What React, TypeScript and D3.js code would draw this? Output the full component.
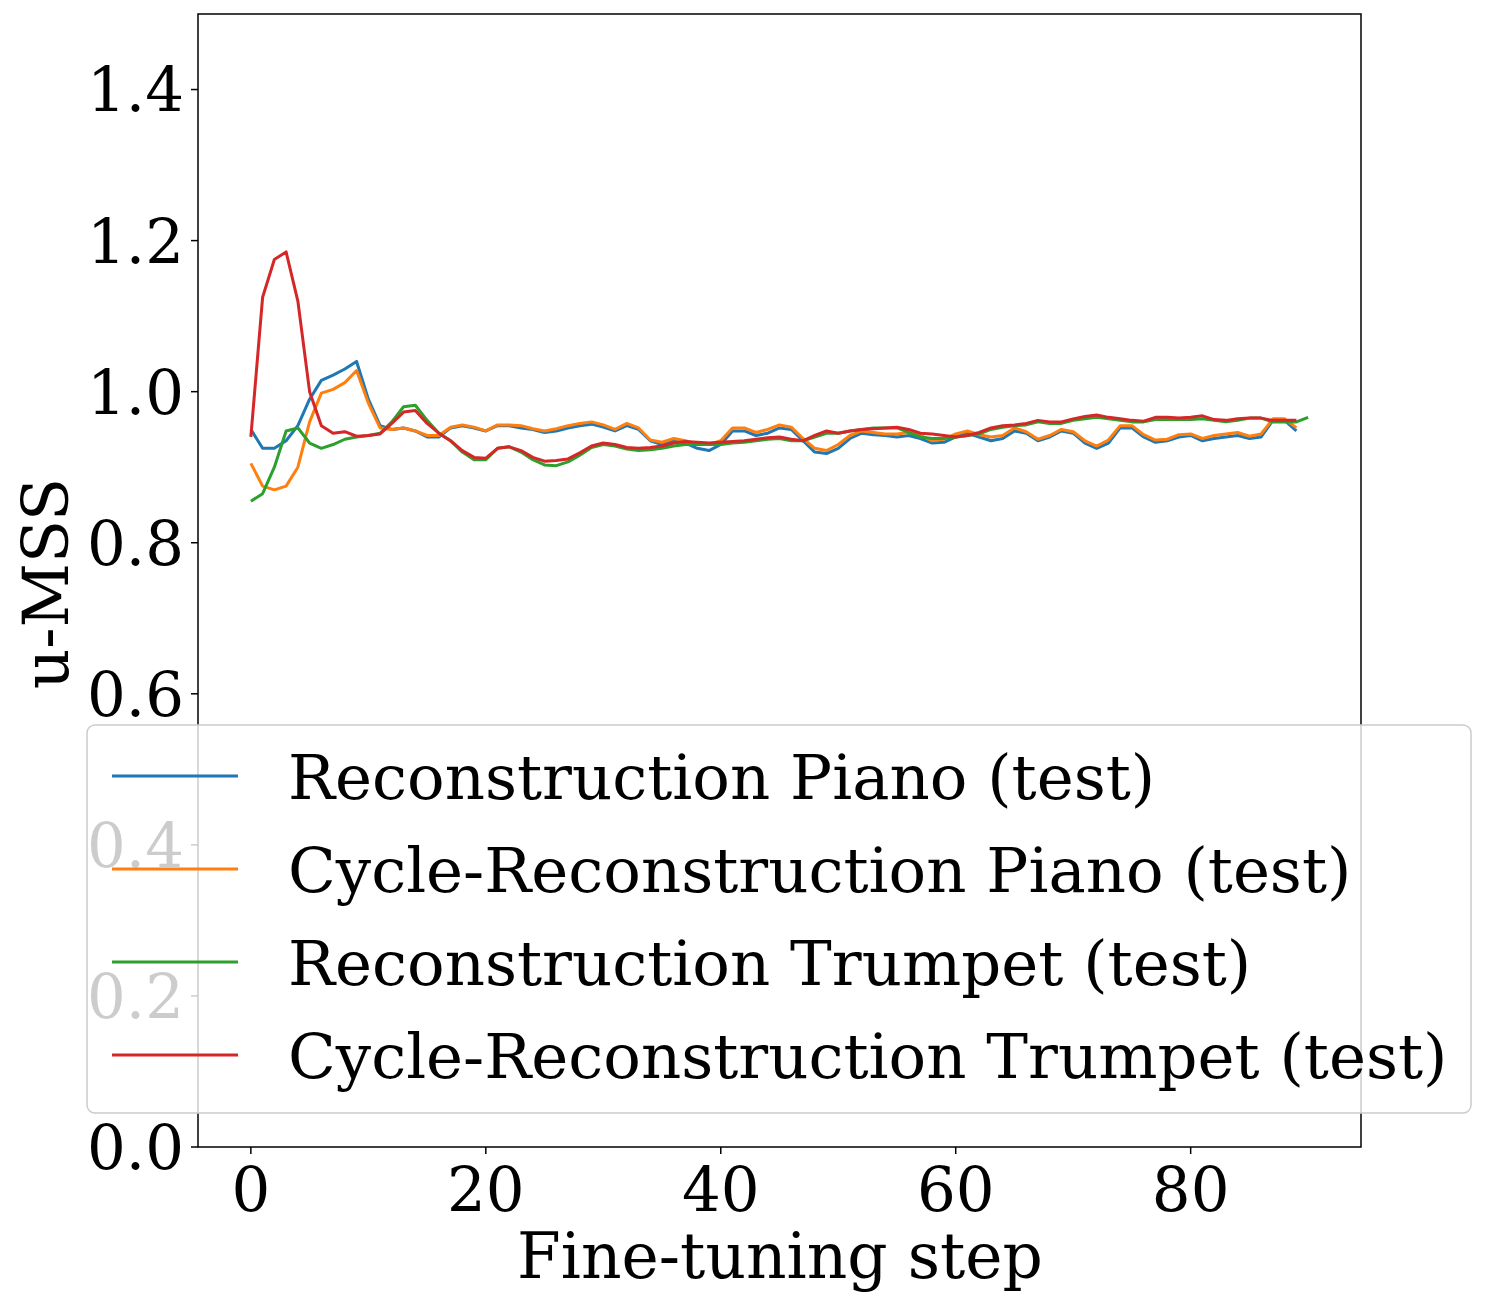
import * as d3 from "d3";

const pianoRecon = [0.95,0.925,0.925,0.935,0.955,0.99,1.015,1.022,1.03,1.04,0.99,0.955,0.95,0.952,0.948,0.94,0.94,0.952,0.955,0.952,0.948,0.955,0.955,0.952,0.95,0.946,0.948,0.952,0.955,0.957,0.953,0.948,0.955,0.95,0.935,0.93,0.935,0.932,0.925,0.922,0.93,0.948,0.948,0.942,0.945,0.952,0.95,0.935,0.92,0.918,0.925,0.938,0.945,0.943,0.942,0.94,0.942,0.938,0.932,0.933,0.94,0.945,0.94,0.935,0.938,0.948,0.945,0.935,0.94,0.948,0.945,0.932,0.925,0.932,0.952,0.952,0.94,0.933,0.935,0.94,0.942,0.935,0.938,0.94,0.942,0.938,0.94,0.962,0.962,0.948];
const pianoCycle = [0.905,0.875,0.87,0.875,0.9,0.96,0.998,1.003,1.012,1.028,0.985,0.952,0.95,0.952,0.948,0.942,0.942,0.953,0.956,0.953,0.948,0.956,0.956,0.955,0.951,0.948,0.951,0.955,0.958,0.96,0.956,0.95,0.958,0.952,0.936,0.933,0.938,0.935,0.93,0.93,0.935,0.952,0.952,0.946,0.95,0.956,0.953,0.938,0.925,0.922,0.93,0.942,0.948,0.946,0.944,0.944,0.946,0.942,0.935,0.937,0.944,0.948,0.943,0.94,0.942,0.952,0.947,0.937,0.942,0.95,0.947,0.935,0.928,0.936,0.955,0.955,0.943,0.936,0.937,0.943,0.944,0.938,0.942,0.944,0.946,0.941,0.944,0.964,0.964,0.952];
const trumpetRecon = [0.855,0.865,0.9,0.948,0.952,0.932,0.925,0.93,0.937,0.94,0.942,0.945,0.96,0.98,0.982,0.962,0.945,0.935,0.92,0.91,0.91,0.925,0.927,0.92,0.91,0.903,0.902,0.907,0.916,0.926,0.93,0.928,0.924,0.922,0.923,0.925,0.928,0.93,0.93,0.93,0.93,0.932,0.933,0.935,0.937,0.938,0.935,0.935,0.94,0.945,0.945,0.948,0.95,0.952,0.952,0.952,0.946,0.94,0.938,0.938,0.94,0.942,0.944,0.95,0.953,0.955,0.956,0.96,0.958,0.958,0.962,0.964,0.966,0.964,0.962,0.96,0.96,0.963,0.963,0.963,0.963,0.964,0.962,0.96,0.962,0.965,0.965,0.96,0.96,0.96,0.966];
const trumpetCycle = [0.94,1.125,1.175,1.185,1.12,1.0,0.955,0.945,0.947,0.941,0.942,0.944,0.958,0.973,0.975,0.958,0.945,0.935,0.922,0.913,0.912,0.925,0.927,0.922,0.913,0.908,0.909,0.911,0.919,0.928,0.932,0.93,0.926,0.925,0.926,0.928,0.932,0.934,0.933,0.932,0.933,0.934,0.935,0.937,0.939,0.94,0.937,0.935,0.942,0.948,0.945,0.948,0.95,0.951,0.952,0.953,0.95,0.945,0.944,0.942,0.94,0.942,0.946,0.952,0.955,0.956,0.958,0.962,0.96,0.96,0.964,0.967,0.969,0.966,0.964,0.962,0.961,0.966,0.966,0.965,0.966,0.968,0.963,0.962,0.964,0.965,0.965,0.962,0.962,0.962];

const seriesNames = [
  "Reconstruction Piano (test)",
  "Cycle-Reconstruction Piano (test)",
  "Reconstruction Trumpet (test)",
  "Cycle-Reconstruction Trumpet (test)",
];
const seriesData = [pianoRecon, pianoCycle, trumpetRecon, trumpetCycle];
const colors = ["#1f77b4", "#ff7f0e", "#2ca02c", "#d62728"];
const xTicks = [0, 20, 40, 60, 80];
const yTicks = [0, 0.2, 0.4, 0.6, 0.8, 1.0, 1.2, 1.4];

const W = 1487, H = 1307;
const left = 198, right = 1361, top = 14, bottom = 1147;
const font = "DejaVu Serif";

export default function App() {
  const x = d3.scaleLinear().domain([-4.5, 94.5]).range([left, right]);
  const y = d3.scaleLinear().domain([0, 1.5]).range([bottom, top]);
  const line = d3.line<number>().x((_, i) => x(i)).y((d) => y(d));

  return (
    <svg width={W} height={H} style={{ position: "absolute", left: 0, top: 0 }} fontFamily={font}>
      <rect width={W} height={H} fill="white" />
      {seriesData.map((s, k) => (
        <path key={k} d={line(s) ?? ""} fill="none" stroke={colors[k]} strokeWidth={3} strokeLinejoin="round" />
      ))}
      <rect x={left} y={top} width={right - left} height={bottom - top} fill="none" stroke="black" strokeWidth={1.5} />
      {xTicks.map((t) => (
        <g key={t}>
          <line x1={x(t)} x2={x(t)} y1={bottom} y2={bottom + 7} stroke="black" strokeWidth={1.5} />
          <text x={x(t)} y={bottom + 64} fontSize={61} textAnchor="middle">{t}</text>
        </g>
      ))}
      {yTicks.map((t) => (
        <g key={t}>
          <line x1={left - 7} x2={left} y1={y(t)} y2={y(t)} stroke="black" strokeWidth={1.5} />
          <text x={left - 14} y={y(t)} dy="0.36em" fontSize={61} textAnchor="end">{t.toFixed(1)}</text>
        </g>
      ))}
      <text x={780} y={1278} fontSize={63} textAnchor="middle">Fine-tuning step</text>
      <text transform={`translate(68, ${(top + bottom) / 2 + 3}) rotate(-90)`} fontSize={63} textAnchor="middle">u-MSS</text>
      <rect x={87} y={725} width={1384} height={388} rx={8} fill="white" fillOpacity={0.8} stroke="#cccccc" strokeWidth={1.5} />
      {seriesNames.map((n, k) => (
        <g key={n}>
          <line x1={112} x2={238} y1={776 + k * 93} y2={776 + k * 93} stroke={colors[k]} strokeWidth={3} />
          <text x={288} y={776 + k * 93} dy="0.36em" fontSize={62.5}>{n}</text>
        </g>
      ))}
    </svg>
  );
}
